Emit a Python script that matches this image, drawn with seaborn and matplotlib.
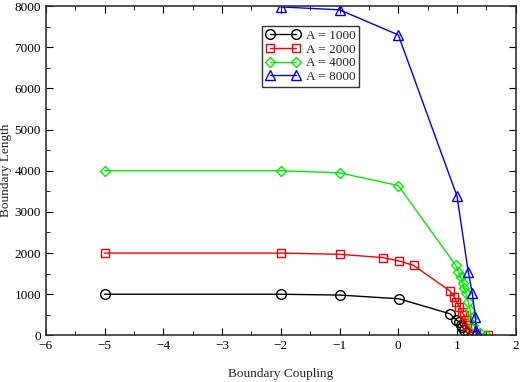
import pandas as pd
import seaborn as sns
import matplotlib.pyplot as plt
from matplotlib.ticker import MultipleLocator

# values
x_1000 = [-5, -2, -1, 0.01, 0.88, 0.99, 1.03, 1.06, 1.09, 1.12, 1.18, 1.26]
y_1000 = [1000, 1000, 980, 890, 525, 373, 330, 250, 210, 130, 50, 10]

x_2000 = [-5, -2, -1, -0.26, 0.01, 0.26, 0.88, 0.95, 0.99, 1.04, 1.08, 1.12, 1.15, 1.17, 1.22, 1.32, 1.52]
y_2000 = [2000, 2000, 1970, 1890, 1810, 1700, 1080, 940, 820, 700, 575, 495, 373, 250, 170, 50, 10]

x_4000 = [-5, -2, -1, 0.0, 0.98, 1.02, 1.06, 1.10, 1.12, 1.15, 1.19, 1.22, 1.25, 1.28, 1.39, 1.5]
y_4000 = [4000, 4000, 3950, 3640, 1700, 1550, 1430, 1280, 1145, 1025, 820, 617, 415, 250, 50, 10]

x_8000 = [-2, -1, 0.0, 1.0, 1.19, 1.26, 1.31, 1.33, 1.36]
y_8000 = [7980, 7910, 7300, 3380, 1550, 1020, 450, 100, 20]

series = [("A = 1000", x_1000, y_1000, "black", "o", 7),
          ("A = 2000", x_2000, y_2000, "red", "s", 6),
          ("A = 4000", x_4000, y_4000, "#00ee00", "D", 5.5),
          ("A = 8000", x_8000, y_8000, "blue", "^", 7.5)]

sns.set_style("ticks")
plt.rcParams['font.family'] = ['Liberation Serif', 'DejaVu Serif']

fig = plt.figure(figsize=(5.21, 3.82), dpi=100)
ax = fig.add_axes([0.088, 0.122, 0.902, 0.862])

for name, xs, ys, col, mk, ms in series:
    df = pd.DataFrame({"x": xs, "y": ys})
    sns.lineplot(data=df, x="x", y="y", sort=False, color=col, marker=mk,
                 markersize=ms, mfc="none", mec=col, mew=1,
                 lw=1, label=name, ax=ax)

ax.set_xlim(-6, 2)
ax.set_ylim(0, 8000)
ax.xaxis.set_major_locator(MultipleLocator(1))
ax.xaxis.set_minor_locator(MultipleLocator(0.5))
ax.yaxis.set_major_locator(MultipleLocator(1000))
ax.yaxis.set_minor_locator(MultipleLocator(500))
ax.tick_params(which="both", direction="in", top=True, right=True, labelsize=9.5, colors="black")
ax.tick_params(which="major", length=5)
ax.tick_params(which="minor", length=3)
for s in ax.spines.values():
    s.set_linewidth(1.2)
    s.set_color("#333333")

ax.set_xlabel("Boundary Coupling", fontsize=9.5, labelpad=11)
ax.set_ylabel("Boundary Length", fontsize=9.5, labelpad=2)

leg = ax.legend(loc="upper left", bbox_to_anchor=(0.46, 0.94), numpoints=2,
                fancybox=False, frameon=True, fontsize=9.5, handlelength=2.6,
                borderpad=0.3, labelspacing=0.1, handletextpad=0.4, borderaxespad=0)
leg.get_frame().set_edgecolor("black")
leg.get_frame().set_linewidth(1)

fig.savefig("out.png", dpi=100)
